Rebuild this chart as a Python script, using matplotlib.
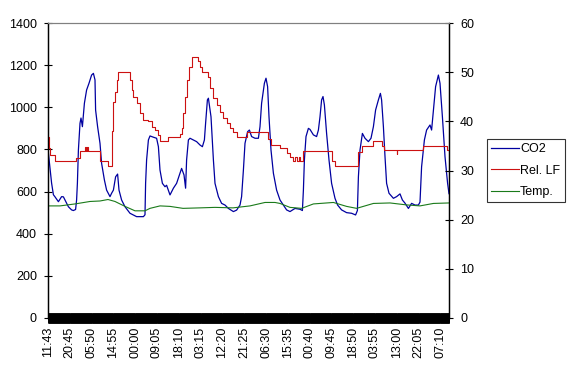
import numpy as np
import matplotlib
matplotlib.use('Agg')
import matplotlib.pyplot as plt
from matplotlib.ticker import FixedLocator

plt.rcParams['font.family'] = ['Liberation Sans', 'DejaVu Sans']
plt.rcParams['font.size'] = 9

# x-Achse: Messpunkt-Index (alle 5 min), Beschriftung alle 109 Punkte
labels = ['11:43', '20:45', '05:50', '14:55', '00:00', '09:05', '18:10', '03:15',
          '12:20', '21:25', '06:30', '15:35', '00:40', '09:45', '18:50', '03:55',
          '13:00', '22:05', '07:10']
n_points = 2005

# CO2 (linke Achse, ppm)
co2_idx = [0, 18, 27, 35, 52, 68, 77, 93, 102, 118, 127, 138, 143, 147, 152, 160, 165, 172,
           182, 193, 205, 218, 227, 235, 238, 248, 260, 268, 282, 293, 310, 318, 327, 338,
           348, 355, 368, 385, 410, 443, 477, 485, 488, 493, 502, 510, 527, 543, 552, 560,
           572, 585, 593, 610, 627, 643, 660, 668, 680, 688, 693, 702, 710, 727, 743, 760,
           772, 782, 788, 797, 802, 815, 827, 835, 852, 868, 885, 902, 927, 943, 960, 968,
           977, 985, 998, 1007, 1018, 1035, 1052, 1060, 1068, 1082, 1090, 1098, 1105, 1115,
           1127, 1143, 1160, 1177, 1193, 1210, 1235, 1260, 1272, 1277, 1282, 1290, 1302,
           1310, 1327, 1343, 1352, 1360, 1368, 1375, 1382, 1393, 1405, 1418, 1435, 1448,
           1468, 1493, 1518, 1538, 1547, 1552, 1560, 1572, 1585, 1602, 1615, 1627, 1638,
           1652, 1662, 1668, 1677, 1685, 1693, 1705, 1727, 1743, 1760, 1772, 1785, 1802,
           1818, 1835, 1852, 1860, 1868, 1882, 1893, 1910, 1918, 1927, 1938, 1952, 1960,
           1972, 1985, 1998, 2005]
co2_val = [800, 640, 585, 575, 552, 576, 575, 545, 528, 513, 510, 515, 560, 640, 797, 924, 949, 908,
           1019, 1082, 1114, 1153, 1161, 1130, 987, 908, 829, 734, 655, 607, 576, 592, 607, 670,
           683, 607, 560, 528, 497, 481, 481, 490, 639, 750, 845, 864, 858, 853, 813, 702,
           639, 623, 630, 584, 616, 639, 687, 710, 679, 616, 750, 845, 853, 845, 837, 821,
           813, 845, 924, 1035, 1043, 955, 750, 639, 576, 544, 536, 520, 505, 512, 536, 576,
           702, 829, 884, 892, 861, 853, 853, 908, 1019, 1114, 1138, 1098, 955, 797,
           687, 607, 560, 536, 513, 505, 520, 516, 510, 607, 750, 861, 900,
           895, 869, 861, 892, 955, 1035, 1051, 1011, 876, 750, 639, 568, 536,
           513, 500, 497, 489, 510, 670, 797, 876, 853, 837, 853, 908, 987,
           1035, 1066, 1035, 908, 766, 639, 592, 568, 576, 589, 560, 545, 520,
           544, 536, 536, 550, 718, 845, 892, 916, 892, 987, 1098, 1153, 1114,
           955, 766, 639, 590]

# relative Luftfeuchte (rechte Achse, %), Stufen
rlf_idx = [0, 3, 8, 35, 140, 160, 185, 190, 195, 200, 260, 300, 318, 323, 327, 335, 343, 350,
           410, 418, 427, 443, 460, 477, 502, 518, 535, 552, 560, 602, 660, 668, 677, 685,
           693, 707, 718, 752, 760, 768, 802, 810, 827, 843, 860, 877, 893, 910, 927, 943,
           993, 1100, 1117, 1160, 1193, 1210, 1225, 1235, 1245, 1255, 1262, 1277, 1418,
           1435, 1552, 1568, 1625, 1668, 1682, 1743, 1746, 1875, 1993, 2005]
rlf_val = [36.9, 34.5, 33.2, 31.9, 32.6, 33.9, 34.8, 33.9, 34.8, 33.9, 32.0, 30.9, 38.0, 41.6,
           44.0, 46.0, 48.4, 50.1, 48.4, 46.4, 45.0, 43.7, 41.6, 40.3, 40.0, 38.9, 38.2, 37.2,
           35.9, 36.9, 37.5, 38.6, 41.6, 45.0, 48.4, 51.1, 53.0, 52.2, 51.1, 50.1, 49.1, 46.7,
           44.7, 43.3, 42.0, 40.6, 39.6, 38.6, 37.9, 36.9, 37.9, 36.4, 35.2, 34.5, 33.5, 32.8,
           32.0, 32.8, 32.0, 32.8, 32.0, 34.0, 32.0, 30.9, 33.7, 34.9, 35.9, 34.9, 34.1, 33.4,
           34.1, 34.9, 34.1, 34.1]

# Temperatur (rechte Achse, °C)
temp_idx = [0, 60, 135, 210, 260, 300, 335, 385, 435, 485, 510, 560, 610, 675, 760, 835, 925,
            1010, 1085, 1135, 1160, 1210, 1268, 1327, 1427, 1493, 1543, 1627, 1710, 1793,
            1860, 1927, 2005]
temp_val = [22.8, 22.8, 23.2, 23.7, 23.8, 24.1, 23.7, 22.7, 21.8, 21.8, 22.3, 22.8, 22.7, 22.3,
            22.4, 22.5, 22.4, 22.8, 23.5, 23.5, 23.3, 22.5, 22.3, 23.2, 23.5, 22.7, 22.3, 23.3,
            23.4, 23.0, 22.8, 23.3, 23.4]

fig = plt.figure(figsize=(5.72, 3.66), dpi=100)
ax = fig.add_axes([48 / 572, 48 / 366, 401 / 572, 295 / 366])
ax2 = ax.twinx()

l1, = ax.plot(co2_idx, co2_val, color='#0000a0', lw=0.9, label='CO2')
l2, = ax2.plot(rlf_idx, rlf_val, color='#cc1111', lw=0.8, drawstyle='steps-post', label='Rel. LF')
l3, = ax2.plot(temp_idx, temp_val, color='#1a7a1a', lw=0.8, label='Temp.')

ax.set_xlim(0, n_points)
ax.set_ylim(0, 1400)
ax2.set_ylim(0, 60)
ax.set_yticks(range(0, 1401, 200))
ax2.set_yticks(range(0, 61, 10))

ax.set_xticks(np.arange(len(labels)) * 109)
ax.set_xticklabels(labels, rotation=90)
ax.xaxis.set_minor_locator(FixedLocator(np.arange(0, n_points + 1)))
ax.tick_params(axis='x', which='major', length=0, pad=6.5)
ax.tick_params(axis='x', which='minor', direction='inout', length=6.5, width=0.6, color='black')
ax.tick_params(axis='y', direction='inout', length=6, width=0.8, pad=5)
ax2.tick_params(axis='y', direction='inout', length=6, width=0.8, pad=5)

for a in (ax, ax2):
    a.spines['top'].set_color('#808080')
    a.spines['top'].set_linewidth(0.8)
    a.spines['left'].set_linewidth(0.9)
    a.spines['right'].set_linewidth(0.9)
    a.spines['bottom'].set_linewidth(0.9)

leg = fig.legend([l1, l2, l3], ['CO2', 'Rel. LF', 'Temp.'], loc='upper left',
                 bbox_to_anchor=(487 / 572, (366 - 139) / 366), bbox_transform=fig.transFigure,
                 frameon=True, fancybox=False, borderaxespad=0, borderpad=0.35,
                 handlelength=2.2, handletextpad=0.1, labelspacing=0.74)
leg.get_frame().set_edgecolor('black')
leg.get_frame().set_linewidth(0.8)

fig.savefig('out.png', dpi=100)
